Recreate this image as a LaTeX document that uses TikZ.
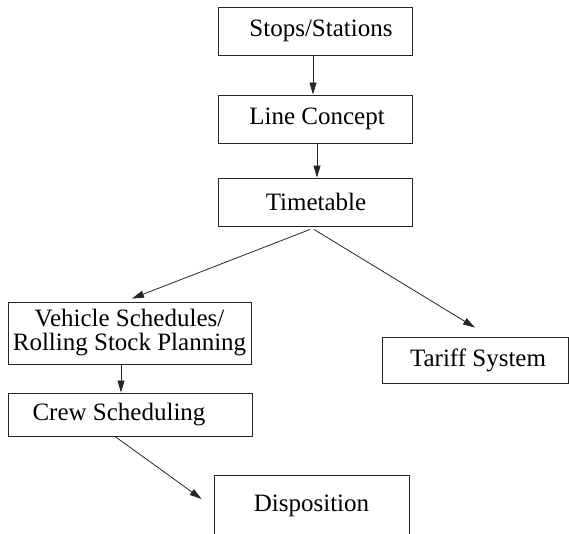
\documentclass[tikz,border=0pt]{standalone}
\usepackage{fontspec}
\setmainfont{Liberation Serif}
\usetikzlibrary{arrows.meta}
\begin{document}
\begin{tikzpicture}[x=1pt,y=1pt,
  box/.style={draw=black!85, line width=0.9pt, rectangle, inner sep=0pt,
              font=\fontsize{25}{24}\selectfont, align=center},
  arr/.style={draw=black!85, line width=0.8pt, -{Triangle[length=12pt,width=7pt]}}]
  \useasboundingbox (0,0) rectangle (569,-533);
  % planning stages
  \node[box, minimum width=194pt, minimum height=48pt] (stops) at (315,-31) {\hspace*{12pt}Stops/Stations};
  \node[box, minimum width=194pt, minimum height=48pt] (line)  at (315,-119) {\hspace*{4pt}Line Concept};
  \node[box, minimum width=194pt, minimum height=48pt] (tt)    at (315,-202) {\hspace*{2pt}Timetable};
  \node[box, minimum width=243pt, minimum height=62pt] (veh)   at (129.5,-333) {Vehicle Schedules/\\Rolling Stock Planning};
  \node[box, minimum width=244pt, minimum height=43pt] (crew)  at (130,-414.5) {Crew Scheduling\hspace*{22pt}};
  \node[box, minimum width=186pt, minimum height=46pt] (tariff) at (475,-360) {\hspace*{6pt}Tariff System};
  \node[box, minimum width=195pt, minimum height=62pt] (disp)  at (311.5,-506) {Disposition};
  % dependencies
  \draw[arr] ([xshift=-2pt]stops.south) -- ([xshift=-2pt]line.north);
  \draw[arr] ([xshift=2pt]line.south) -- ([xshift=2pt]tt.north);
  \draw[arr] ([xshift=-5pt,yshift=-3pt]tt.south) -- ([xshift=2.5pt,yshift=3pt]veh.north);
  \draw[arr] ([xshift=-1pt,yshift=-3pt]tt.south) -- ([yshift=9pt]tariff.north);
  \draw[arr] ([xshift=-8.5pt]veh.south) -- ([xshift=-9pt]crew.north);
  \draw[arr] ([xshift=-15pt]crew.south) -- ([xshift=-12pt,yshift=7pt]disp.west);
\end{tikzpicture}
\end{document}
